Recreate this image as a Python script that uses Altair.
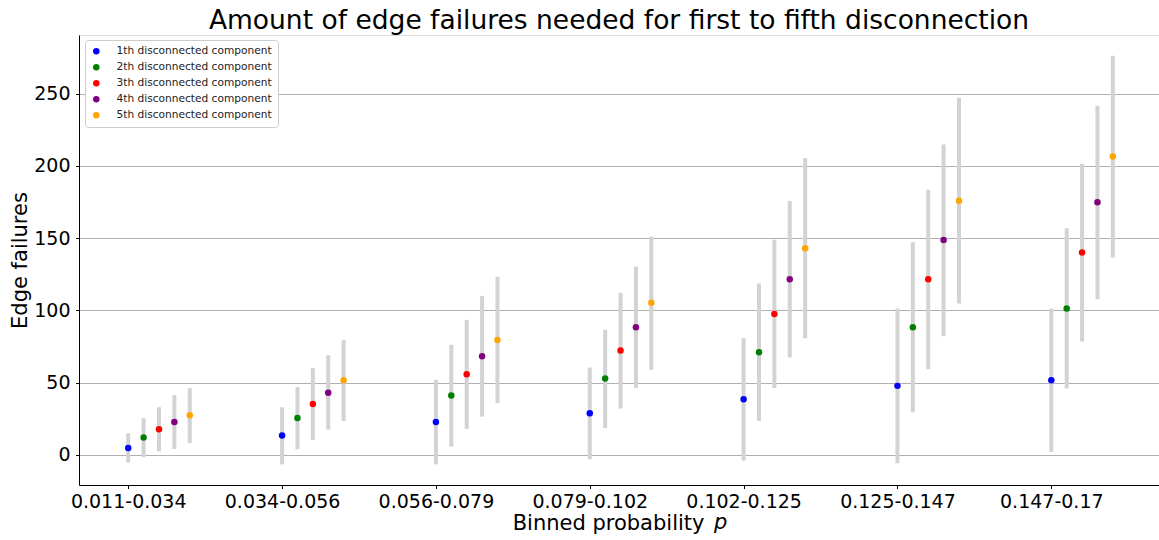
import altair as alt
import pandas as pd

categories = ["0.011-0.034", "0.034-0.056", "0.056-0.079", "0.079-0.102",
              "0.102-0.125", "0.125-0.147", "0.147-0.17"]
series_names = ["1th disconnected component", "2th disconnected component",
                "3th disconnected component", "4th disconnected component",
                "5th disconnected component"]
series_colors = ["blue", "green", "red", "purple", "orange"]

mean_1 = [4.8, 13.4, 22.8, 28.8, 38.6, 47.8, 51.7]
low_1 = [-5.3, -6.5, -6.5, -3.0, -3.9, -5.8, 2.1]
high_1 = [15.0, 33.0, 52.0, 60.5, 80.8, 101.3, 101.3]

mean_2 = [12.0, 25.6, 41.1, 52.9, 71.1, 88.4, 101.3]
low_2 = [-1.6, 3.9, 5.8, 18.5, 23.5, 29.5, 45.9]
high_2 = [25.4, 47.0, 76.2, 86.6, 118.6, 147.1, 156.8]

mean_3 = [17.7, 35.3, 55.9, 72.3, 97.6, 121.6, 140.1]
low_3 = [2.5, 10.4, 18.0, 32.1, 46.4, 59.3, 78.5]
high_3 = [33.0, 60.2, 93.5, 112.2, 148.9, 183.5, 201.5]

mean_4 = [22.8, 43.1, 68.3, 88.4, 121.6, 148.7, 174.8]
low_4 = [4.1, 17.5, 26.5, 46.4, 67.4, 82.2, 107.8]
high_4 = [41.5, 69.0, 110.1, 130.4, 175.7, 214.9, 241.7]

mean_5 = [27.5, 51.7, 79.6, 105.3, 143.1, 175.9, 206.6]
low_5 = [8.3, 23.5, 36.0, 58.9, 80.8, 104.8, 136.6]
high_5 = [46.2, 79.6, 123.3, 151.2, 205.5, 247.2, 276.3]

means = [mean_1, mean_2, mean_3, mean_4, mean_5]
lows = [low_1, low_2, low_3, low_4, low_5]
highs = [high_1, high_2, high_3, high_4, high_5]

rows = []
for si, name in enumerate(series_names):
    for gi, cat in enumerate(categories):
        rows.append({
            "series": name,
            "x": gi + 0.1 * si,
            "mean": means[si][gi],
            "low": lows[si][gi],
            "high": highs[si][gi],
        })
df = pd.DataFrame(rows)

FONT = "DejaVu Sans"
label_expr = "[" + ",".join("'%s'" % c for c in categories) + "][datum.value]"

xscale = alt.Scale(domain=[-0.32, 6.70], nice=False, zero=False)
yscale = alt.Scale(domain=[-20.8, 290.6], nice=False, zero=False)

xaxis = alt.Axis(
    values=list(range(7)), labelExpr=label_expr, grid=False,
    title="Binned probability", titleX=625, titleY=44, titleAlign="right",
    titleBaseline="alphabetic", titleFontSize=21, titleFontWeight="normal",
    titleColor="black", labelFontSize=19, labelColor="black", labelPadding=4,
    tickSize=3.5, tickColor="black", domainColor="black", labelFont=FONT, titleFont=FONT,
)
yaxis = alt.Axis(
    values=[0, 50, 100, 150, 200, 250], grid=True, gridColor="#b0b0b0", gridWidth=1,
    title="Edge failures", titleFontSize=21, titleFontWeight="normal", titleColor="black",
    titleX=-53, titleY=225, titleAngle=270, titleAlign="center", titleBaseline="alphabetic",
    labelFontSize=19, labelColor="black", labelPadding=5.5,
    tickSize=3.5, tickColor="black", domainColor="black", labelFont=FONT, titleFont=FONT,
)

base = alt.Chart(df)

rules = base.mark_rule(strokeWidth=4, color="#d3d3d3").encode(
    x=alt.X("x:Q", scale=xscale, axis=xaxis),
    y=alt.Y("low:Q", scale=yscale, axis=yaxis),
    y2="high:Q",
)

points = base.mark_circle(size=42, opacity=1).encode(
    x=alt.X("x:Q", scale=xscale),
    y=alt.Y("mean:Q", scale=yscale),
    color=alt.Color(
        "series:N",
        scale=alt.Scale(domain=series_names, range=series_colors),
        legend=alt.Legend(
            title=None, orient="none", legendX=6, legendY=5,
            labelFontSize=10.6, labelFont=FONT, labelColor="#222222",
            symbolType="circle", symbolSize=42, labelOffset=15,
            rowPadding=5, padding=6, fillColor="white",
            strokeColor="#cccccc", cornerRadius=3,
        ),
    ),
)

p_label = alt.Chart(pd.DataFrame({"t": ["p"]})).mark_text(
    fontSize=21, fontStyle="italic", font=FONT, align="left",
    baseline="alphabetic", color="black",
).encode(x=alt.value(635), y=alt.value(494), text="t:N")

chart = alt.layer(rules, points, p_label).properties(
    width=1080, height=450,
    title=alt.TitleParams(
        text="Amount of edge failures needed for first to fifth disconnection",
        fontSize=26.5, fontWeight="normal", anchor="middle", offset=1,
        font=FONT, color="black",
    ),
    autosize=alt.AutoSizeParams(type="none"),
    padding={"left": 79, "top": 35, "right": 0, "bottom": 55},
).configure_view(stroke="black", strokeWidth=1).configure(font=FONT)

chart.save("out.html", embed_options={"renderer": "svg", "actions": False})
